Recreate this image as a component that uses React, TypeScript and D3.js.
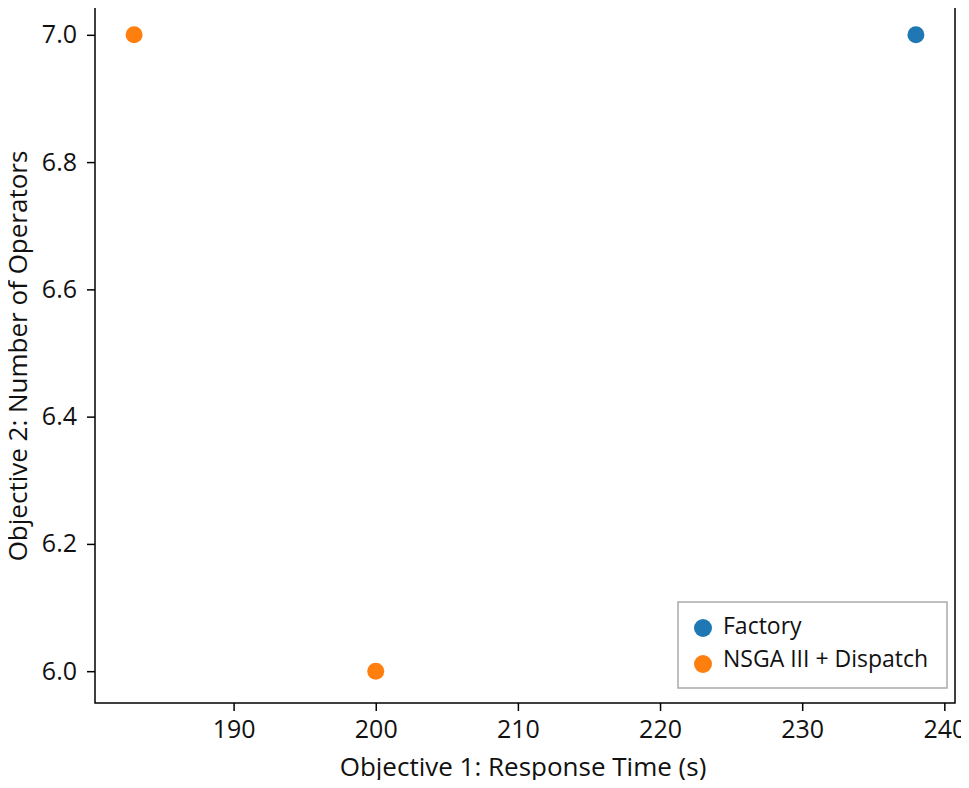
import React, { useRef, useEffect } from 'react';
import * as d3 from 'd3';

const factoryX = [238];
const factoryY = [7];
const nsgaX = [183, 200];
const nsgaY = [7, 6];
const xTicks = [190, 200, 210, 220, 230, 240];
const yTicks = [6.0, 6.2, 6.4, 6.6, 6.8, 7.0];
const seriesNames = ['Factory', 'NSGA III + Dispatch'];
const seriesColors = ['#1f77b4', '#ff7f0e'];

const width = 969;
const height = 788;
const font = '"Open Sans", "DejaVu Sans", sans-serif';

const App = () => {
  const svgRef = useRef<SVGSVGElement>(null);

  useEffect(() => {
    const svg = d3.select(svgRef.current);
    svg.selectAll('*').remove();

    const left = 95, right = 955, top = 3, bottom = 703;

    const allX = [...factoryX, ...nsgaX];
    const allY = [...factoryY, ...nsgaY];
    const [x0, x1] = d3.extent(allX) as [number, number];
    const [y0, y1] = d3.extent(allY) as [number, number];
    const mx = (x1 - x0) * 0.05, my = (y1 - y0) * 0.05;

    const x = d3.scaleLinear().domain([x0 - mx, x1 + mx]).range([left, right]);
    const y = d3.scaleLinear().domain([y0 - my, y1 + my]).range([bottom, top]);

    svg.append('rect').attr('width', width).attr('height', height).attr('fill', '#fff');

    // axes
    const xAxis = svg.append('g')
      .attr('transform', `translate(0,${bottom})`)
      .call(d3.axisBottom(x).tickValues(xTicks).tickFormat(d3.format('d')).tickSize(8).tickPadding(9).tickSizeOuter(0));
    const yAxis = svg.append('g')
      .attr('transform', `translate(${left},0)`)
      .call(d3.axisLeft(y).tickValues(yTicks).tickFormat(d3.format('.1f')).tickSize(8).tickPadding(10).tickSizeOuter(0));
    [xAxis, yAxis].forEach(g => {
      g.select('.domain').remove();
      g.selectAll('line').attr('stroke', '#000').attr('stroke-width', 1.5);
      g.selectAll('text').attr('font-family', font).attr('font-size', 25).attr('fill', '#111');
    });

    // frame
    svg.append('rect')
      .attr('x', left).attr('y', top)
      .attr('width', right - left).attr('height', bottom - top)
      .attr('fill', 'none').attr('stroke', '#000').attr('stroke-width', 1.5);

    // points
    const series = [
      { xs: factoryX, ys: factoryY, color: seriesColors[0] },
      { xs: nsgaX, ys: nsgaY, color: seriesColors[1] },
    ];
    series.forEach(s => {
      svg.append('g').selectAll('circle')
        .data(s.xs.map((v, i) => [v, s.ys[i]]))
        .join('circle')
        .attr('cx', d => x(d[0]))
        .attr('cy', d => y(d[1]))
        .attr('r', 8.5)
        .attr('fill', s.color);
    });

    // axis labels
    svg.append('text')
      .attr('x', 523).attr('y', 776)
      .attr('text-anchor', 'middle')
      .attr('font-family', font).attr('font-size', 26).attr('fill', '#111')
      .text('Objective 1: Response Time (s)');
    svg.append('text')
      .attr('transform', `translate(27,356) rotate(-90)`)
      .attr('text-anchor', 'middle')
      .attr('font-family', font).attr('font-size', 26).attr('fill', '#111')
      .text('Objective 2: Number of Operators');

    // legend
    const legend = svg.append('g').attr('transform', 'translate(678,602)');
    legend.append('rect')
      .attr('width', 269).attr('height', 86)
      .attr('fill', '#fff').attr('stroke', '#aaa').attr('stroke-width', 1.5);
    seriesNames.forEach((name, i) => {
      const g = legend.append('g').attr('transform', `translate(0,${24 + i * 33})`);
      g.append('circle').attr('cx', 25).attr('cy', i === 0 ? 2 : 5).attr('r', 9).attr('fill', seriesColors[i]);
      g.append('text')
        .attr('x', 45).attr('dy', '0.35em')
        .attr('font-family', font).attr('font-size', 23).attr('fill', '#111')
        .text(name);
    });
  }, []);

  return <svg ref={svgRef} width={width} height={height} style={{ display: 'block', margin: '-8px' }} />;
};

export default App;
